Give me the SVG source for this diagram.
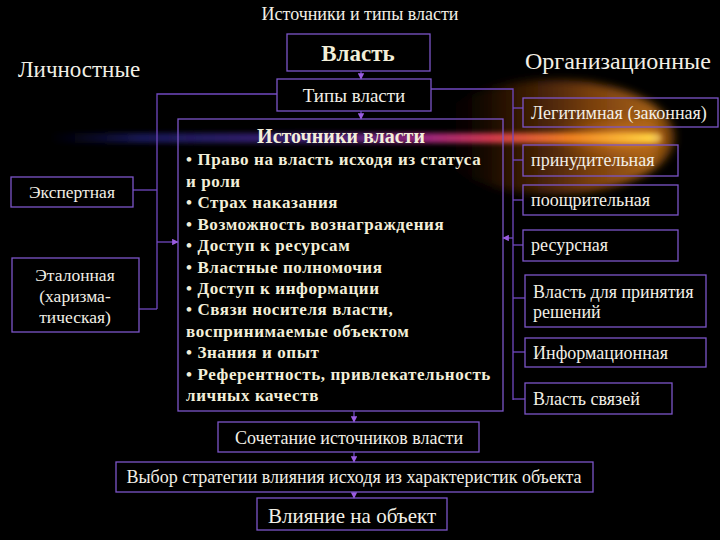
<svg xmlns="http://www.w3.org/2000/svg" width="720" height="540" viewBox="0 0 720 540">
<defs>
<style>
.box{fill:none;stroke:#7c55c8;stroke-width:1.3}
.ln{fill:none;stroke:#7048c0;stroke-width:1.3}
.t{fill:#f2efe6}
.b{font-weight:bold;fill:#f3efd9}
</style>
<marker id="ah" viewBox="0 0 10 10" refX="9" refY="5" markerWidth="5" markerHeight="5" orient="auto">
<path d="M0,0 L10,5 L0,10 z" fill="#9a5ce0"/>
</marker>
<linearGradient id="halo" x1="0" y1="0" x2="1" y2="0">
<stop offset="0" stop-color="#000" stop-opacity="0"/>
<stop offset="0.3" stop-color="#5a2806" stop-opacity="0.45"/>
<stop offset="0.65" stop-color="#a05414" stop-opacity="0.75"/>
<stop offset="0.9" stop-color="#c07018" stop-opacity="0.85"/>
<stop offset="1" stop-color="#a05810" stop-opacity="0.6"/>
</linearGradient>
<radialGradient id="core" cx="0.7" cy="0.5" r="0.5">
<stop offset="0" stop-color="#e8902a" stop-opacity="0.8"/>
<stop offset="1" stop-color="#c06010" stop-opacity="0"/>
</radialGradient>
<linearGradient id="streak" x1="0" y1="0" x2="1" y2="0">
<stop offset="0" stop-color="#1a1a80" stop-opacity="0"/>
<stop offset="0.15" stop-color="#2a2a98" stop-opacity="0.55"/>
<stop offset="0.45" stop-color="#5a2aa0" stop-opacity="0.75"/>
<stop offset="0.62" stop-color="#b02a88" stop-opacity="0.9"/>
<stop offset="0.72" stop-color="#d83a50" stop-opacity="0.95"/>
<stop offset="0.85" stop-color="#f08020" stop-opacity="1"/>
<stop offset="0.98" stop-color="#ffd040" stop-opacity="1"/>
<stop offset="1" stop-color="#ffe080" stop-opacity="0.5"/>
</linearGradient>
<filter id="blur" x="-20%" y="-50%" width="140%" height="200%"><feGaussianBlur stdDeviation="4"/></filter>
<filter id="blur2" x="-10%" y="-200%" width="120%" height="500%"><feGaussianBlur stdDeviation="2.5"/></filter>
</defs>
<rect width="720" height="540" fill="#000"/>
<g id="glow">
<ellipse cx="553" cy="137" rx="122" ry="57" fill="url(#halo)" filter="url(#blur)"/>
<ellipse cx="595" cy="138" rx="72" ry="26" fill="url(#core)" filter="url(#blur)"/>
<rect x="50" y="133" width="612" height="10" rx="5" fill="url(#streak)" filter="url(#blur2)"/>
</g>
<g font-family="Liberation Serif, DejaVu Serif, serif">
<text class="t" x="360" y="20" font-size="18" text-anchor="middle">Источники и типы власти</text>
<text class="t" x="18" y="77" font-size="23">Личностные</text>
<text class="t" x="525" y="69" font-size="24">Организационные</text>
<g id="connectors">
<line class="ln" x1="361" y1="71" x2="361" y2="79" marker-end="url(#ah)"/>
<line class="ln" x1="361" y1="111" x2="361" y2="119" marker-end="url(#ah)"/>
<polyline class="ln" points="277,94 157,94 157,309"/>
<line class="ln" x1="133" y1="190" x2="157" y2="190"/>
<line class="ln" x1="139" y1="309" x2="157" y2="309"/>
<line class="ln" x1="157" y1="242" x2="178" y2="242" marker-end="url(#ah)"/>
<polyline class="ln" points="431,89 513,89 513,400"/>
<line class="ln" x1="513" y1="108" x2="523" y2="108"/>
<line class="ln" x1="513" y1="160" x2="523" y2="160"/>
<line class="ln" x1="513" y1="200" x2="523" y2="200"/>
<line class="ln" x1="513" y1="245" x2="523" y2="245"/>
<line class="ln" x1="513" y1="298" x2="525" y2="298"/>
<line class="ln" x1="513" y1="352" x2="525" y2="352"/>
<line class="ln" x1="513" y1="399" x2="525" y2="399"/>
<line class="ln" x1="513" y1="238" x2="503" y2="238" marker-end="url(#ah)"/>
<line class="ln" x1="354" y1="411" x2="354" y2="422" marker-end="url(#ah)"/>
<line class="ln" x1="354" y1="452" x2="354" y2="462" marker-end="url(#ah)"/>
<line class="ln" x1="354" y1="492" x2="354" y2="498" marker-end="url(#ah)"/>
</g>
<g id="vlast">
<rect class="box" x="287" y="34" width="143" height="37"/>
<text class="t b" x="358" y="61" font-size="23" text-anchor="middle">Власть</text>
</g>
<g id="tipy">
<rect class="box" x="277" y="79" width="154" height="32"/>
<text class="t" x="354" y="102" font-size="19" text-anchor="middle">Типы власти</text>
</g>
<g id="ekspert">
<rect class="box" x="11" y="177" width="122" height="30"/>
<text class="t" x="72" y="198" font-size="17.5" text-anchor="middle">Экспертная</text>
</g>
<g id="etalon">
<rect class="box" x="12" y="258" width="127" height="74"/>
<text class="t" x="75" y="281" font-size="17.5" text-anchor="middle">Эталонная</text>
<text class="t" x="75" y="302" font-size="17.5" text-anchor="middle">(харизма-</text>
<text class="t" x="75" y="323" font-size="17.5" text-anchor="middle">тическая)</text>
</g>
<g id="istochniki">
<rect class="box" x="178" y="119" width="325" height="292"/>
<text class="t b" x="341" y="143" font-size="20" text-anchor="middle">Источники власти</text>
<g class="t b" font-size="17" letter-spacing="0.6">
<text x="186" y="165">•  Право на власть исходя из статуса</text>
<text x="186" y="187">и роли</text>
<text x="186" y="208">•  Страх  наказания</text>
<text x="186" y="230">•  Возможность вознаграждения</text>
<text x="186" y="251">•  Доступ к ресурсам</text>
<text x="186" y="273">•  Властные полномочия</text>
<text x="186" y="294">•  Доступ к информации</text>
<text x="186" y="315">•  Связи носителя власти,</text>
<text x="186" y="337">воспринимаемые объектом</text>
<text x="186" y="358">•  Знания и опыт</text>
<text x="186" y="380">•  Референтность, привлекательность</text>
<text x="186" y="401">личных качеств</text>
</g>
</g>
<g id="legit">
<rect class="box" x="523" y="98" width="195" height="29"/>
<text class="t" x="531" y="119" font-size="18">Легитимная (законная)</text>
</g>
<g id="prinud">
<rect class="box" x="523" y="145" width="155" height="31"/>
<text class="t" x="531" y="166" font-size="18">принудительная</text>
</g>
<g id="pooshch">
<rect class="box" x="523" y="185" width="155" height="30"/>
<text class="t" x="531" y="206" font-size="18">поощрительная</text>
</g>
<g id="resurs">
<rect class="box" x="523" y="230" width="155" height="31"/>
<text class="t" x="531" y="251" font-size="18">ресурсная</text>
</g>
<g id="resheniya">
<rect class="box" x="525" y="275" width="181" height="52"/>
<text class="t" x="533" y="298" font-size="18">Власть для принятия</text>
<text class="t" x="533" y="318" font-size="18">решений</text>
</g>
<g id="inform">
<rect class="box" x="525" y="338" width="181" height="29"/>
<text class="t" x="533" y="359" font-size="18">Информационная</text>
</g>
<g id="svyazi">
<rect class="box" x="525" y="383" width="147" height="31"/>
<text class="t" x="533" y="405" font-size="18">Власть связей</text>
</g>
<g id="sochetanie">
<rect class="box" x="218" y="422" width="261" height="30"/>
<text class="t" x="349" y="444" font-size="18" text-anchor="middle">Сочетание источников власти</text>
</g>
<g id="vybor">
<rect class="box" x="116" y="462" width="477" height="30"/>
<text class="t" x="354" y="483" font-size="18" text-anchor="middle">Выбор стратегии влияния исходя из характеристик объекта</text>
</g>
<g id="vliyanie">
<rect class="box" x="257" y="498" width="190" height="32"/>
<text class="t" x="352" y="523" font-size="21" text-anchor="middle">Влияние на объект</text>
</g>
</g>
</svg>
